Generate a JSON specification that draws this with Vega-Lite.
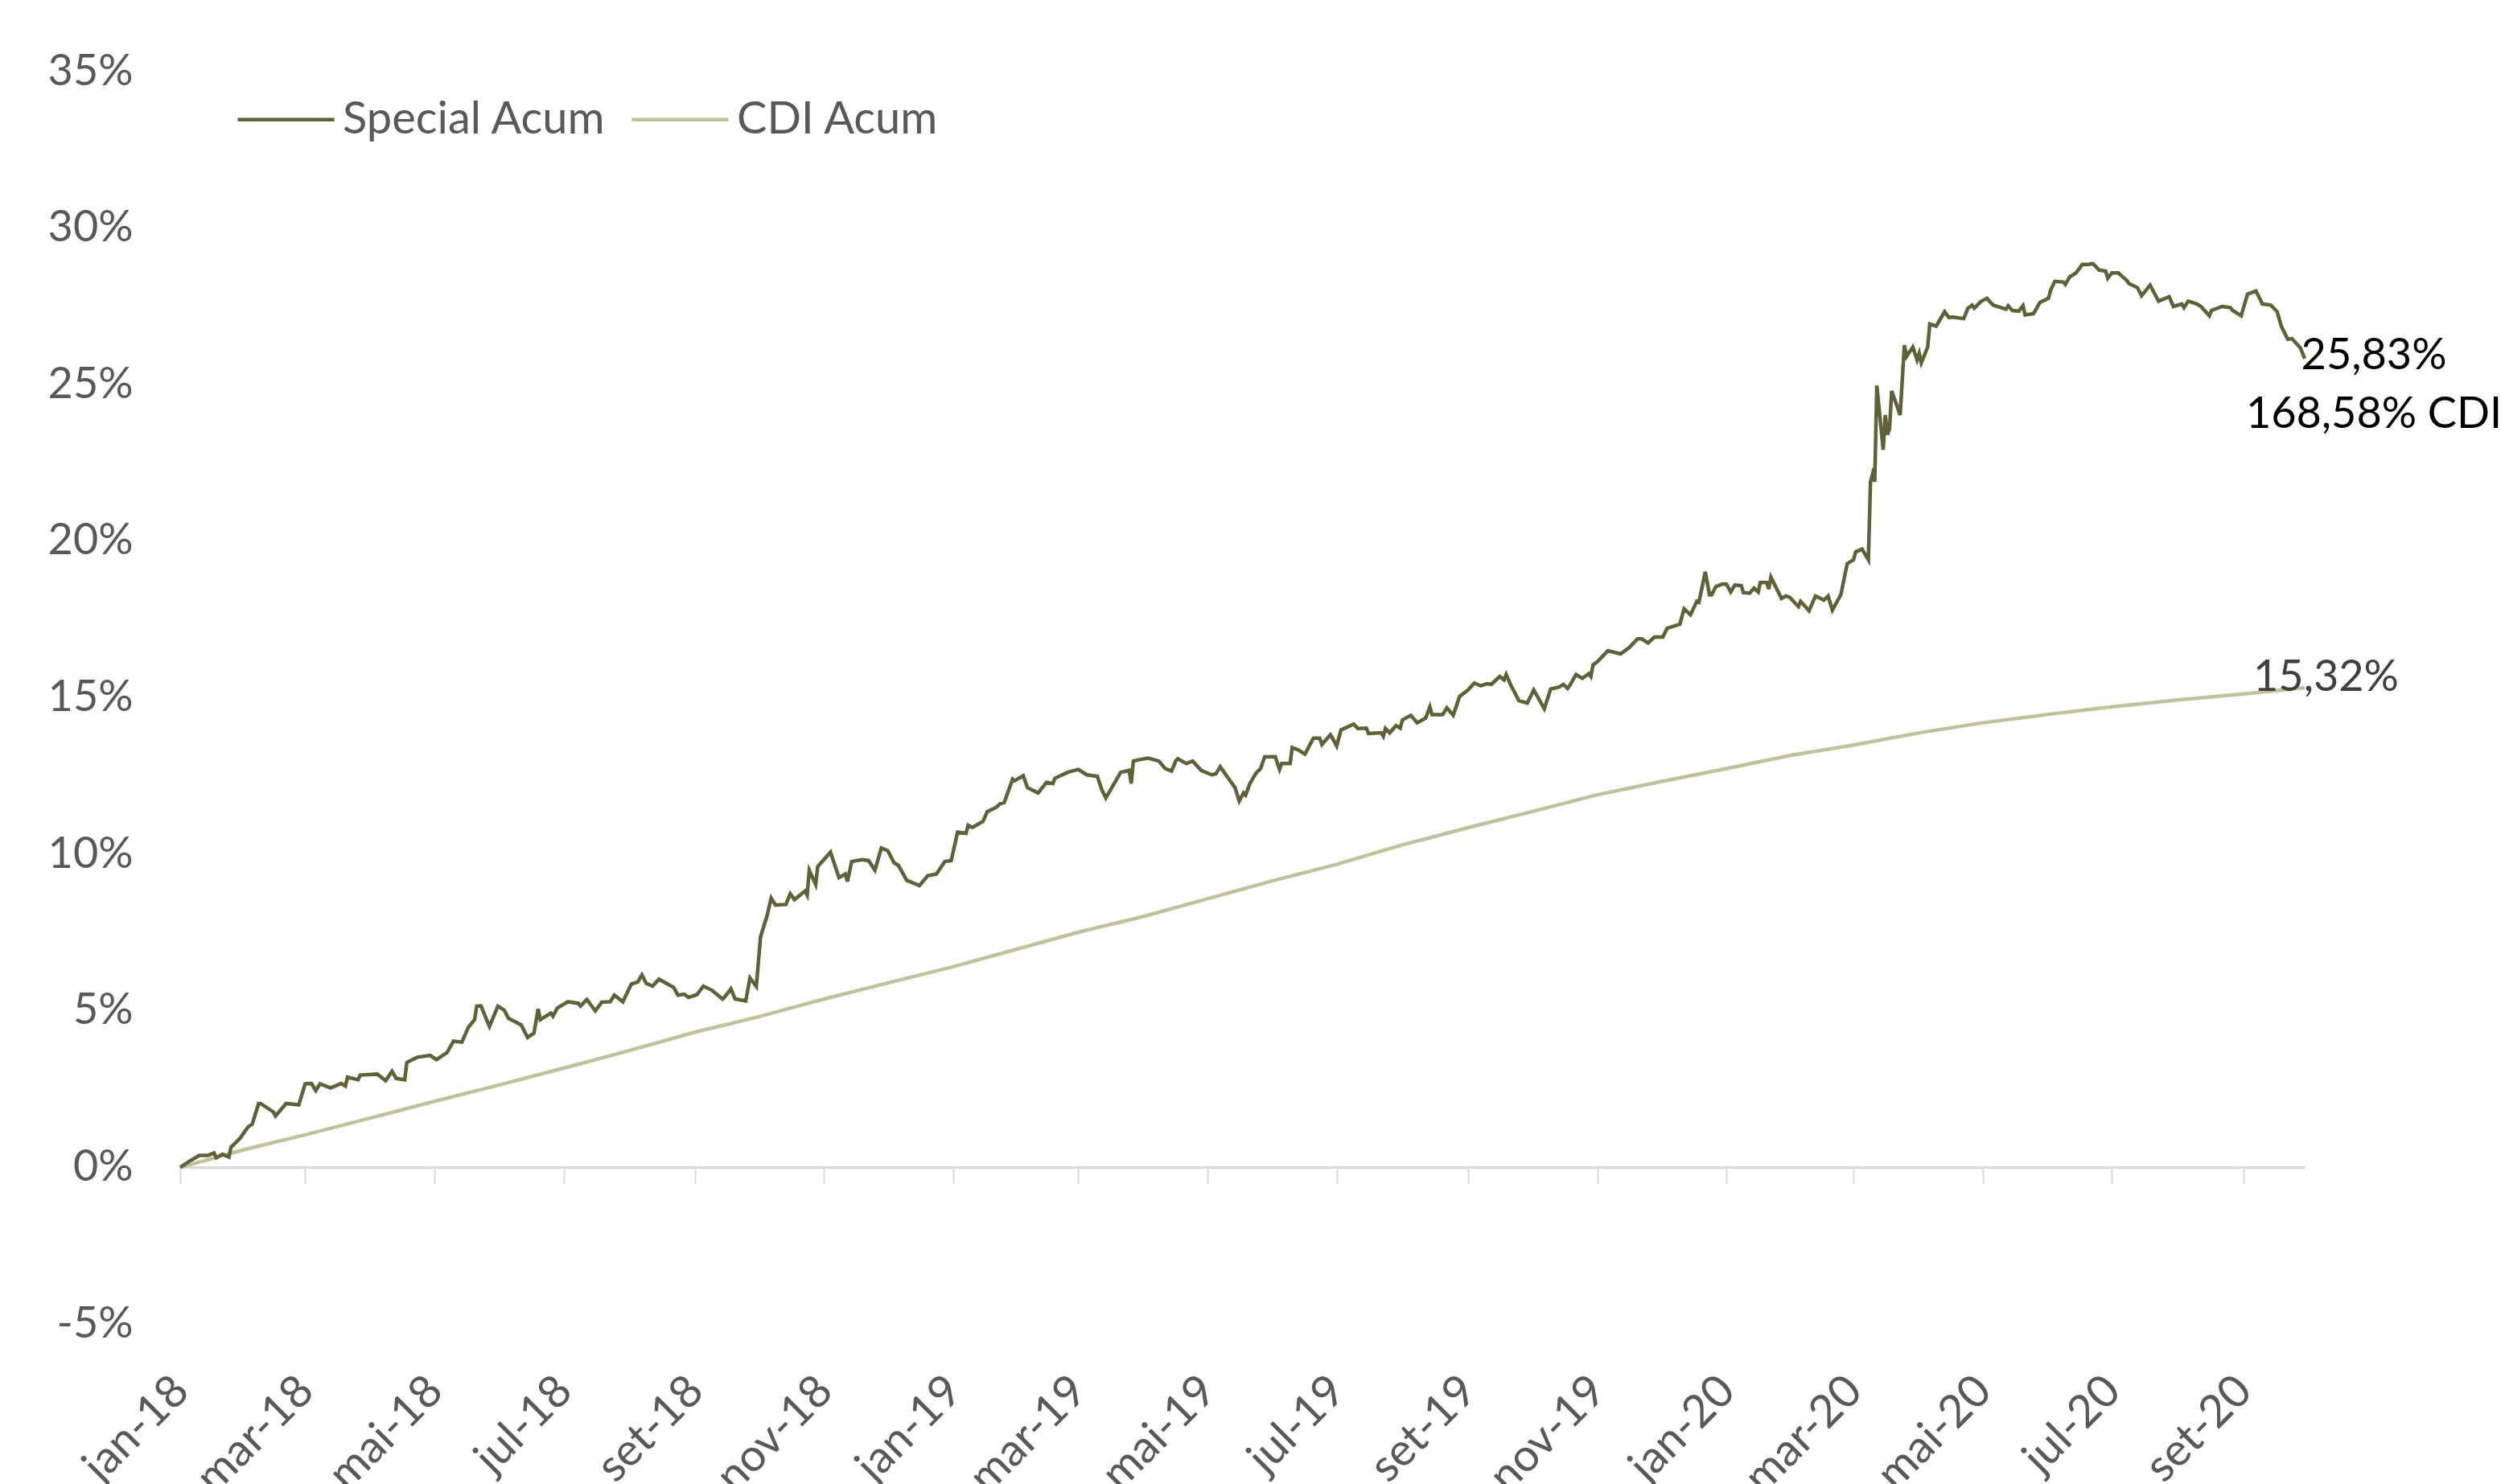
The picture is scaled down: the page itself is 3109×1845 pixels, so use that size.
{
  "$schema": "https://vega.github.io/schema/vega-lite/v6.json",
  "autosize": "none",
  "width": 2641,
  "height": 1557,
  "padding": {"left": 224, "top": 89, "right": 244, "bottom": 199},
  "background": "#ffffff",
  "config": {"view": {"stroke": null}, "font": "Lato"},
  "datasets": {
    "special": [
      {"date":"2018-01-01","value":0},{"date":"2018-01-05","value":0.18},{"date":"2018-01-10","value":0.38},{"date":"2018-01-14","value":0.38},{"date":"2018-01-17","value":0.46},{"date":"2018-01-18","value":0.31},{"date":"2018-01-21","value":0.42},{"date":"2018-01-24","value":0.33},{"date":"2018-01-25","value":0.65},{"date":"2018-01-29","value":0.91},
      {"date":"2018-02-02","value":1.29},{"date":"2018-02-04","value":1.38},{"date":"2018-02-07","value":2.04},{"date":"2018-02-08","value":2.04},{"date":"2018-02-14","value":1.77},{"date":"2018-02-15","value":1.64},{"date":"2018-02-20","value":2.04},{"date":"2018-02-26","value":2.0},
      {"date":"2018-03-01","value":2.67},{"date":"2018-03-04","value":2.68},{"date":"2018-03-06","value":2.45},{"date":"2018-03-08","value":2.67},{"date":"2018-03-13","value":2.54},{"date":"2018-03-18","value":2.68},{"date":"2018-03-20","value":2.6},{"date":"2018-03-21","value":2.88},{"date":"2018-03-26","value":2.8},{"date":"2018-03-27","value":2.95},
      {"date":"2018-04-04","value":2.98},{"date":"2018-04-08","value":2.77},{"date":"2018-04-11","value":3.07},{"date":"2018-04-13","value":2.84},{"date":"2018-04-17","value":2.8},{"date":"2018-04-18","value":3.35},{"date":"2018-04-23","value":3.52},{"date":"2018-04-29","value":3.58},
      {"date":"2018-05-02","value":3.44},{"date":"2018-05-07","value":3.67},{"date":"2018-05-10","value":4.03},{"date":"2018-05-14","value":4.0},{"date":"2018-05-17","value":4.47},{"date":"2018-05-20","value":4.72},{"date":"2018-05-21","value":5.15},{"date":"2018-05-23","value":5.16},{"date":"2018-05-27","value":4.5},{"date":"2018-05-31","value":5.15},
      {"date":"2018-06-03","value":5.02},{"date":"2018-06-05","value":4.76},{"date":"2018-06-11","value":4.55},{"date":"2018-06-14","value":4.15},{"date":"2018-06-17","value":4.29},{"date":"2018-06-19","value":5.06},{"date":"2018-06-20","value":4.72},{"date":"2018-06-25","value":4.93},{"date":"2018-06-26","value":4.83},{"date":"2018-06-28","value":5.09},
      {"date":"2018-07-01","value":5.21},{"date":"2018-07-03","value":5.29},{"date":"2018-07-08","value":5.24},{"date":"2018-07-09","value":5.15},{"date":"2018-07-12","value":5.36},{"date":"2018-07-16","value":5.0},{"date":"2018-07-19","value":5.28},{"date":"2018-07-23","value":5.29},{"date":"2018-07-25","value":5.5},{"date":"2018-07-29","value":5.29},
      {"date":"2018-08-02","value":5.86},{"date":"2018-08-05","value":5.92},{"date":"2018-08-07","value":6.15},{"date":"2018-08-09","value":5.88},{"date":"2018-08-12","value":5.79},{"date":"2018-08-15","value":6.01},{"date":"2018-08-22","value":5.75},{"date":"2018-08-24","value":5.5},{"date":"2018-08-27","value":5.53},{"date":"2018-08-29","value":5.43},
      {"date":"2018-09-02","value":5.52},{"date":"2018-09-05","value":5.79},{"date":"2018-09-09","value":5.66},{"date":"2018-09-14","value":5.38},{"date":"2018-09-15","value":5.44},{"date":"2018-09-18","value":5.7},{"date":"2018-09-20","value":5.38},{"date":"2018-09-25","value":5.32},{"date":"2018-09-27","value":6.05},{"date":"2018-09-30","value":5.78},
      {"date":"2018-10-02","value":7.37},{"date":"2018-10-05","value":8.02},{"date":"2018-10-07","value":8.6},{"date":"2018-10-09","value":8.38},{"date":"2018-10-14","value":8.4},{"date":"2018-10-16","value":8.74},{"date":"2018-10-18","value":8.55},{"date":"2018-10-23","value":8.83},{"date":"2018-10-24","value":8.7},{"date":"2018-10-25","value":9.49},{"date":"2018-10-28","value":9.04},{"date":"2018-10-29","value":9.61},
      {"date":"2018-11-04","value":10.07},{"date":"2018-11-08","value":9.26},{"date":"2018-11-11","value":9.37},{"date":"2018-11-12","value":9.13},{"date":"2018-11-14","value":9.77},{"date":"2018-11-19","value":9.83},{"date":"2018-11-22","value":9.8},{"date":"2018-11-25","value":9.49},{"date":"2018-11-28","value":10.2},
      {"date":"2018-12-01","value":10.12},{"date":"2018-12-04","value":9.73},{"date":"2018-12-06","value":9.65},{"date":"2018-12-10","value":9.17},{"date":"2018-12-16","value":9.0},{"date":"2018-12-20","value":9.32},{"date":"2018-12-24","value":9.37},{"date":"2018-12-28","value":9.77},{"date":"2018-12-31","value":9.8},
      {"date":"2019-01-03","value":10.71},{"date":"2019-01-07","value":10.67},{"date":"2019-01-08","value":10.93},{"date":"2019-01-10","value":10.86},{"date":"2019-01-15","value":11.05},{"date":"2019-01-17","value":11.36},{"date":"2019-01-21","value":11.49},{"date":"2019-01-23","value":11.61},{"date":"2019-01-25","value":11.65},{"date":"2019-01-29","value":12.4},{"date":"2019-01-30","value":12.35},
      {"date":"2019-02-03","value":12.51},{"date":"2019-02-05","value":12.13},{"date":"2019-02-10","value":11.96},{"date":"2019-02-14","value":12.3},{"date":"2019-02-17","value":12.26},{"date":"2019-02-18","value":12.43},{"date":"2019-02-24","value":12.62},
      {"date":"2019-03-01","value":12.71},{"date":"2019-03-05","value":12.54},{"date":"2019-03-10","value":12.49},{"date":"2019-03-12","value":12.08},{"date":"2019-03-14","value":11.8},{"date":"2019-03-19","value":12.38},{"date":"2019-03-21","value":12.62},{"date":"2019-03-25","value":12.68},{"date":"2019-03-26","value":12.26},{"date":"2019-03-27","value":12.98},
      {"date":"2019-04-01","value":13.05},{"date":"2019-04-03","value":13.07},{"date":"2019-04-08","value":12.98},{"date":"2019-04-11","value":12.74},{"date":"2019-04-14","value":12.66},{"date":"2019-04-16","value":12.98},{"date":"2019-04-17","value":13.05},{"date":"2019-04-21","value":12.9},{"date":"2019-04-24","value":12.98},{"date":"2019-04-28","value":12.68},
      {"date":"2019-05-03","value":12.54},{"date":"2019-05-05","value":12.57},{"date":"2019-05-07","value":12.8},{"date":"2019-05-10","value":12.51},{"date":"2019-05-14","value":12.13},{"date":"2019-05-16","value":11.7},{"date":"2019-05-18","value":11.96},{"date":"2019-05-19","value":11.89},{"date":"2019-05-21","value":12.26},{"date":"2019-05-24","value":12.6},{"date":"2019-05-26","value":12.73},{"date":"2019-05-28","value":13.11},
      {"date":"2019-06-02","value":13.12},{"date":"2019-06-04","value":12.71},{"date":"2019-06-05","value":12.9},{"date":"2019-06-09","value":12.9},{"date":"2019-06-10","value":13.41},{"date":"2019-06-13","value":13.33},{"date":"2019-06-16","value":13.2},{"date":"2019-06-20","value":13.71},{"date":"2019-06-23","value":13.71},{"date":"2019-06-24","value":13.51},{"date":"2019-06-28","value":13.82},{"date":"2019-06-29","value":13.71},
      {"date":"2019-07-01","value":13.46},{"date":"2019-07-03","value":13.97},{"date":"2019-07-09","value":14.16},{"date":"2019-07-11","value":14.02},{"date":"2019-07-15","value":14.03},{"date":"2019-07-16","value":13.86},{"date":"2019-07-22","value":13.88},{"date":"2019-07-23","value":13.77},{"date":"2019-07-24","value":14.02},{"date":"2019-07-26","value":13.88},{"date":"2019-07-29","value":14.11},{"date":"2019-07-31","value":14.03},
      {"date":"2019-08-01","value":14.29},{"date":"2019-08-05","value":14.44},{"date":"2019-08-08","value":14.2},{"date":"2019-08-12","value":14.35},{"date":"2019-08-14","value":14.71},{"date":"2019-08-15","value":14.46},{"date":"2019-08-20","value":14.46},{"date":"2019-08-22","value":14.68},{"date":"2019-08-25","value":14.44},{"date":"2019-08-28","value":15.04},
      {"date":"2019-09-01","value":15.25},{"date":"2019-09-04","value":15.47},{"date":"2019-09-07","value":15.38},{"date":"2019-09-10","value":15.45},{"date":"2019-09-12","value":15.43},{"date":"2019-09-16","value":15.68},{"date":"2019-09-18","value":15.57},{"date":"2019-09-19","value":15.74},{"date":"2019-09-21","value":15.43},{"date":"2019-09-25","value":14.91},{"date":"2019-09-29","value":14.83},
      {"date":"2019-10-02","value":15.25},{"date":"2019-10-07","value":14.65},{"date":"2019-10-10","value":15.28},{"date":"2019-10-14","value":15.34},{"date":"2019-10-16","value":15.43},{"date":"2019-10-18","value":15.3},{"date":"2019-10-19","value":15.39},{"date":"2019-10-22","value":15.74},{"date":"2019-10-25","value":15.62},{"date":"2019-10-28","value":15.77},{"date":"2019-10-29","value":15.68},{"date":"2019-10-30","value":16.05},
      {"date":"2019-11-01","value":16.15},{"date":"2019-11-06","value":16.5},{"date":"2019-11-12","value":16.4},{"date":"2019-11-16","value":16.6},{"date":"2019-11-20","value":16.88},{"date":"2019-11-22","value":16.88},{"date":"2019-11-25","value":16.75},{"date":"2019-11-28","value":16.94},
      {"date":"2019-12-02","value":16.94},{"date":"2019-12-04","value":17.22},{"date":"2019-12-10","value":17.35},{"date":"2019-12-12","value":17.84},{"date":"2019-12-15","value":17.65},{"date":"2019-12-18","value":18.08},{"date":"2019-12-19","value":18.05},{"date":"2019-12-22","value":19.02},{"date":"2019-12-24","value":18.29},{"date":"2019-12-25","value":18.29},{"date":"2019-12-27","value":18.55},{"date":"2019-12-30","value":18.63},
      {"date":"2020-01-01","value":18.63},{"date":"2020-01-03","value":18.38},{"date":"2020-01-05","value":18.6},{"date":"2020-01-08","value":18.58},{"date":"2020-01-09","value":18.36},{"date":"2020-01-12","value":18.34},{"date":"2020-01-14","value":18.5},{"date":"2020-01-16","value":18.38},{"date":"2020-01-17","value":18.68},{"date":"2020-01-20","value":18.68},{"date":"2020-01-21","value":18.47},{"date":"2020-01-22","value":18.85},{"date":"2020-01-27","value":18.17},{"date":"2020-01-29","value":18.25},{"date":"2020-01-31","value":18.2},
      {"date":"2020-02-04","value":17.91},{"date":"2020-02-05","value":18.08},{"date":"2020-02-09","value":17.78},{"date":"2020-02-12","value":18.25},{"date":"2020-02-16","value":18.12},{"date":"2020-02-18","value":18.25},{"date":"2020-02-20","value":17.8},{"date":"2020-02-24","value":18.29},{"date":"2020-02-27","value":19.28},
      {"date":"2020-03-01","value":19.41},{"date":"2020-03-02","value":19.66},{"date":"2020-03-05","value":19.75},{"date":"2020-03-08","value":19.41},{"date":"2020-03-09","value":21.89},{"date":"2020-03-10","value":22.15},{"date":"2020-03-11","value":21.9},{"date":"2020-03-12","value":24.97},{"date":"2020-03-15","value":22.92},{"date":"2020-03-16","value":24.03},{"date":"2020-03-17","value":23.4},{"date":"2020-03-18","value":23.6},{"date":"2020-03-19","value":24.8},{"date":"2020-03-23","value":24.03},{"date":"2020-03-25","value":26.26},{"date":"2020-03-26","value":25.9},{"date":"2020-03-29","value":26.2},{"date":"2020-03-31","value":25.79},
      {"date":"2020-04-01","value":26.0},{"date":"2020-04-02","value":25.7},{"date":"2020-04-05","value":26.2},{"date":"2020-04-06","value":26.94},{"date":"2020-04-09","value":26.87},{"date":"2020-04-13","value":27.33},{"date":"2020-04-15","value":27.15},{"date":"2020-04-17","value":27.16},{"date":"2020-04-22","value":27.11},{"date":"2020-04-24","value":27.44},{"date":"2020-04-26","value":27.54},{"date":"2020-04-27","value":27.44},{"date":"2020-04-30","value":27.65},
      {"date":"2020-05-03","value":27.76},{"date":"2020-05-05","value":27.6},{"date":"2020-05-06","value":27.54},{"date":"2020-05-12","value":27.41},{"date":"2020-05-13","value":27.52},{"date":"2020-05-15","value":27.37},{"date":"2020-05-18","value":27.35},{"date":"2020-05-20","value":27.52},{"date":"2020-05-21","value":27.23},{"date":"2020-05-25","value":27.27},{"date":"2020-05-28","value":27.63},
      {"date":"2020-06-01","value":27.76},{"date":"2020-06-02","value":28.01},{"date":"2020-06-04","value":28.3},{"date":"2020-06-08","value":28.28},{"date":"2020-06-09","value":28.2},{"date":"2020-06-11","value":28.44},{"date":"2020-06-14","value":28.57},{"date":"2020-06-17","value":28.84},{"date":"2020-06-20","value":28.84},{"date":"2020-06-22","value":28.87},{"date":"2020-06-25","value":28.66},{"date":"2020-06-28","value":28.63},{"date":"2020-06-29","value":28.4},
      {"date":"2020-07-01","value":28.57},{"date":"2020-07-04","value":28.57},{"date":"2020-07-08","value":28.33},{"date":"2020-07-09","value":28.23},{"date":"2020-07-13","value":28.1},{"date":"2020-07-15","value":27.84},{"date":"2020-07-19","value":28.18},{"date":"2020-07-23","value":27.67},{"date":"2020-07-28","value":27.81},{"date":"2020-07-30","value":27.5},
      {"date":"2020-08-03","value":27.58},{"date":"2020-08-04","value":27.46},{"date":"2020-08-06","value":27.67},{"date":"2020-08-10","value":27.58},{"date":"2020-08-12","value":27.5},{"date":"2020-08-16","value":27.2},{"date":"2020-08-17","value":27.37},{"date":"2020-08-22","value":27.5},{"date":"2020-08-26","value":27.46},{"date":"2020-08-27","value":27.37},{"date":"2020-08-31","value":27.2},
      {"date":"2020-09-03","value":27.89},{"date":"2020-09-07","value":27.99},{"date":"2020-09-10","value":27.58},{"date":"2020-09-14","value":27.54},{"date":"2020-09-17","value":27.33},{"date":"2020-09-19","value":26.86},{"date":"2020-09-22","value":26.45},{"date":"2020-09-24","value":26.47},{"date":"2020-09-28","value":26.17},{"date":"2020-09-30","value":25.83}
    ],
    "cdi": [
      {"date":"2018-01-01","value":0},{"date":"2018-02-01","value":0.58},{"date":"2018-03-01","value":1.04},{"date":"2018-04-01","value":1.58},{"date":"2018-05-01","value":2.11},{"date":"2018-06-01","value":2.64},{"date":"2018-07-01","value":3.17},{"date":"2018-08-01","value":3.73},{"date":"2018-09-01","value":4.32},{"date":"2018-10-01","value":4.81},{"date":"2018-11-01","value":5.38},{"date":"2018-12-01","value":5.89},
      {"date":"2019-01-01","value":6.41},{"date":"2019-02-01","value":6.99},{"date":"2019-03-01","value":7.51},{"date":"2019-04-01","value":8.02},{"date":"2019-05-01","value":8.58},{"date":"2019-06-01","value":9.16},{"date":"2019-07-01","value":9.68},{"date":"2019-08-01","value":10.3},{"date":"2019-09-01","value":10.85},{"date":"2019-10-01","value":11.36},{"date":"2019-11-01","value":11.9},{"date":"2019-12-01","value":12.32},
      {"date":"2020-01-01","value":12.74},{"date":"2020-02-01","value":13.17},{"date":"2020-03-01","value":13.49},{"date":"2020-04-01","value":13.88},{"date":"2020-05-01","value":14.2},{"date":"2020-06-01","value":14.47},{"date":"2020-07-01","value":14.71},{"date":"2020-08-01","value":14.93},{"date":"2020-09-01","value":15.12},{"date":"2020-09-30","value":15.32}
    ],
    "noteSpecial": [
      {"date": "2020-09-30", "value": 25.83, "label": "25,83%\n168,58% CDI"}
    ],
    "noteCdi": [
      {"date": "2020-09-30", "value": 15.32, "label": "15,32%"}
    ]
  },
  "layer": [
    {
      "data": {"name": "cdi"},
      "mark": {"type": "line", "strokeWidth": 4.5},
      "encoding": {
        "x": {
          "field": "date", "type": "temporal",
          "scale": {"type": "utc", "domain": [{"year": 2018, "month": 1, "date": 1, "utc": true}, {"year": 2020, "month": 9, "date": 30, "utc": true}]},
          "axis": {
            "title": null,
            "orient": "bottom",
            "offset": -195,
            "grid": false,
            "domain": true, "domainColor": "#d9d9d9", "domainWidth": 3,
            "ticks": true, "tickSize": 20, "tickColor": "#d9d9d9", "tickWidth": 2,
            "values": [
              {"year": 2018, "month": 1, "date": 1, "utc": true}, {"year": 2018, "month": 3, "date": 1, "utc": true}, {"year": 2018, "month": 5, "date": 1, "utc": true}, {"year": 2018, "month": 7, "date": 1, "utc": true}, {"year": 2018, "month": 9, "date": 1, "utc": true}, {"year": 2018, "month": 11, "date": 1, "utc": true},
              {"year": 2019, "month": 1, "date": 1, "utc": true}, {"year": 2019, "month": 3, "date": 1, "utc": true}, {"year": 2019, "month": 5, "date": 1, "utc": true}, {"year": 2019, "month": 7, "date": 1, "utc": true}, {"year": 2019, "month": 9, "date": 1, "utc": true}, {"year": 2019, "month": 11, "date": 1, "utc": true},
              {"year": 2020, "month": 1, "date": 1, "utc": true}, {"year": 2020, "month": 3, "date": 1, "utc": true}, {"year": 2020, "month": 5, "date": 1, "utc": true}, {"year": 2020, "month": 7, "date": 1, "utc": true}, {"year": 2020, "month": 9, "date": 1, "utc": true}
            ],
            "labelExpr": "['jan','fev','mar','abr','mai','jun','jul','ago','set','out','nov','dez'][utcmonth(datum.value)] + '-' + utcFormat(datum.value, '%y')",
            "labelAngle": -45,
            "labelPadding": 230,
            "labelOffset": -18,
            "labelFont": "Lato", "labelFontSize": 56, "labelColor": "#595959",
            "labelOverlap": false, "labelBound": false, "labelFlush": false
          }
        },
        "y": {
          "field": "value", "type": "quantitative",
          "scale": {"domain": [-5, 35], "nice": false, "zero": false},
          "axis": {
            "title": null, "grid": false, "domain": false, "ticks": false, "tickSize": 0,
            "values": [-5, 0, 5, 10, 15, 20, 25, 30, 35],
            "labelExpr": "datum.value + '%'",
            "labelPadding": 59,
            "labelFont": "Lato", "labelFontSize": 54, "labelColor": "#595959"
          }
        },
        "color": {
          "datum": "CDI Acum",
          "scale": {"domain": ["Special Acum", "CDI Acum"], "range": ["#5f6138", "#c3c19c"]},
          "legend": {
            "title": null, "orient": "none", "legendX": 69, "legendY": -3, "direction": "horizontal",
            "symbolType": "stroke", "symbolSize": 14400, "symbolStrokeWidth": 4.5,
            "labelFont": "Lato", "labelFontSize": 56, "labelColor": "#595959", "labelLimit": 0,
            "labelOffset": 8, "columnPadding": 22, "padding": 0
          }
        }
      }
    },
    {
      "data": {"name": "special"},
      "mark": {"type": "line", "strokeWidth": 4.5},
      "encoding": {
        "x": {"field": "date", "type": "temporal"},
        "y": {"field": "value", "type": "quantitative"},
        "color": {"datum": "Special Acum"}
      }
    },
    {
      "data": {"name": "noteSpecial"},
      "mark": {"type": "text", "align": "center", "baseline": "alphabetic", "dx": 86, "dy": 13, "lineHeight": 73, "lineBreak": "\n", "font": "Lato", "fontSize": 54, "color": "#000000"},
      "encoding": {
        "x": {"field": "date", "type": "temporal"},
        "y": {"field": "value", "type": "quantitative"},
        "text": {"field": "label"}
      }
    },
    {
      "data": {"name": "noteCdi"},
      "mark": {"type": "text", "align": "left", "baseline": "alphabetic", "dx": -64, "dy": 4, "font": "Lato", "fontSize": 54, "color": "#404040"},
      "encoding": {
        "x": {"field": "date", "type": "temporal"},
        "y": {"field": "value", "type": "quantitative"},
        "text": {"field": "label"}
      }
    }
  ]
}
